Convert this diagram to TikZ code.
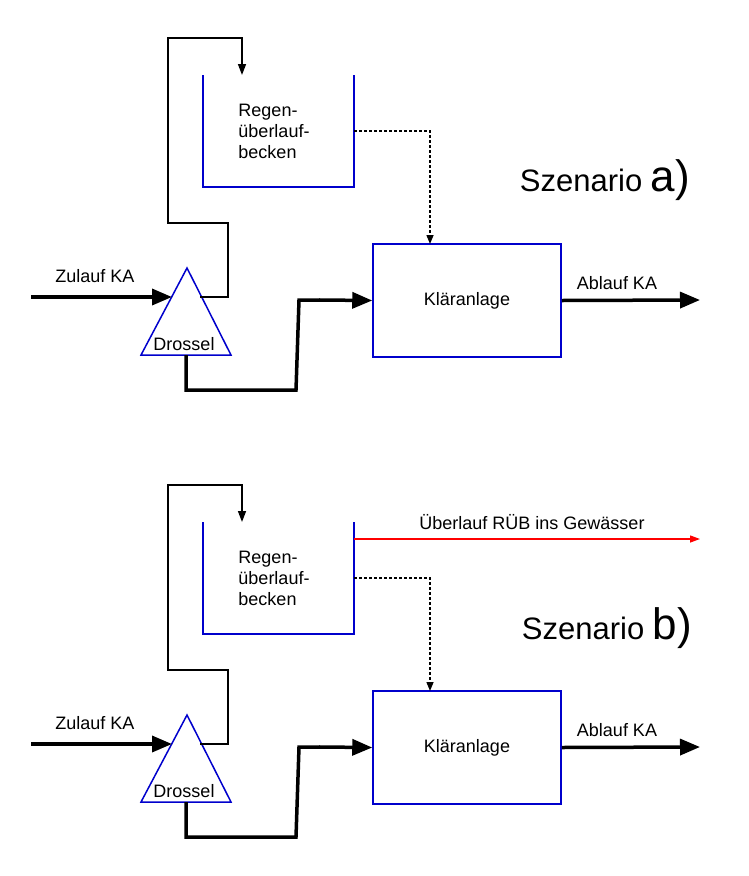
\documentclass[tikz,border=0pt]{standalone}
\usepackage{fontspec}
\setmainfont{Liberation Sans}
\usetikzlibrary{arrows.meta}
\begin{document}
\begin{tikzpicture}[x=1pt,y=-1pt,
  blu/.style={draw=blue!80!black,line width=1.5pt},
  thick arrow/.style={line width=3.5pt,-{Triangle[length=20pt,width=16pt]}},
  thin arrow/.style={line width=1.5pt,-{Triangle[length=11pt,width=8pt]}},
  dot arrow/.style={line width=1.4pt,dash pattern=on 3pt off 2pt,-{Triangle[length=9pt,width=7pt]}},
  lbl/.style={font=\fontsize{18}{21}\selectfont,inner sep=0pt},
  scen/.style={font=\fontsize{31}{34}\selectfont,inner sep=0pt,anchor=base}]
\useasboundingbox (0,0) rectangle (749,876);
\foreach \dy/\s in {0/a,447/b}{
\begin{scope}[yshift=-\dy pt]
  \draw[blu] (203,75) -- (203,187) -- (354,187) -- (354,75);
  \node[lbl,align=left] (rub\s) at (274,131) {Regen-\\überlauf-\\becken};
  \coordinate (rubR\s) at (354,131);
  \coordinate (rubT\s) at (242,75);
  \draw[blu] (187,268) -- (231,355) -- (141,355) -- cycle;
  \node[lbl] (dr\s) at (184,344) {Drossel};
  \coordinate (trR\s) at (200,297);
  \coordinate (trL\s) at (172,297);
  \coordinate (trB\s) at (186,355);
  \node[blu,minimum width=188pt,minimum height=113pt,inner sep=0pt,
        font=\fontsize{18}{21}\selectfont] (ka\s) at (467,300.5) {Kläranlage};
  \coordinate (zin\s) at (31,297);
  \draw[thick arrow] (zin\s) -- (trL\s);
  \node[lbl] at (95,276) {Zulauf KA};
  \draw[thin arrow] (trR\s) -- (228,297) -- (228,223) -- (168,223) -- (168,38) -- (242,38) -- (rubT\s);
  \draw[dot arrow] (rubR\s) -- (430,131) -- (430,244);
  \draw[line width=3.5pt,line join=miter] (trB\s) -- (186,390) -- (296,390) -- (299,300) -- (320,300);
  \draw[thick arrow] (319,300) -- (ka\s.west);
  \coordinate (aout\s) at (700,300);
  \draw[thick arrow] (ka\s.east) -- (aout\s);
  \node[lbl] at (617,283) {Ablauf KA};
\end{scope}}
\node[scen] at (605,191) {Szenario \fontsize{44}{46}\selectfont a)};
\node[scen] at (607,639) {Szenario \fontsize{44}{46}\selectfont b)};
\coordinate (ov) at (700,539);
\draw[red,line width=1.3pt,-{Triangle[length=10pt,width=7pt]}] (354,539) -- (ov);
\node[lbl] at (532,522) {Überlauf RÜB ins Gewässer};
\end{tikzpicture}
\end{document}
